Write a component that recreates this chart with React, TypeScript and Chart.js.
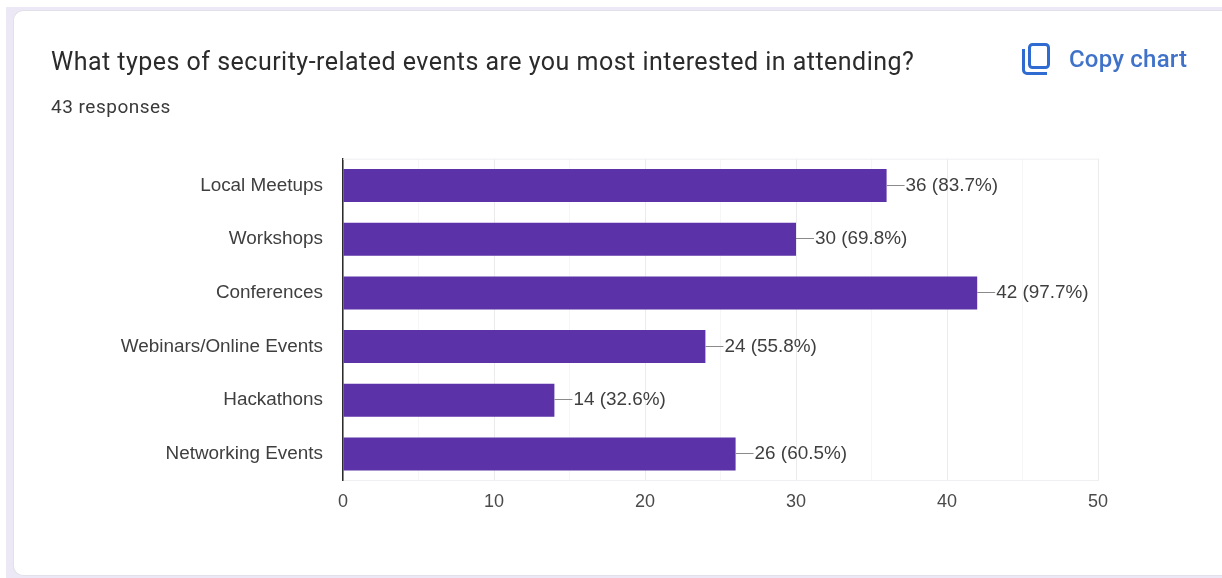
import React, { useEffect, useRef } from "react";
import { Chart, registerables } from "chart.js";

Chart.register(...registerables);

const titleText = "What types of security-related events are you most interested in attending?";
const responsesText = "43 responses";
const copyText = "Copy chart";
const categories = ["Local Meetups", "Workshops", "Conferences", "Webinars/Online Events", "Hackathons", "Networking Events"];
const counts = [36, 30, 42, 24, 14, 26];
const percents = ["83.7%", "69.8%", "97.7%", "55.8%", "32.6%", "60.5%"];

const labelFont = '18.9px "Liberation Sans", Arial, sans-serif';
const textColor = "#3f3f3f";

const annotate = {
  id: "annotate",
  afterDatasetsDraw(chart: any) {
    const { ctx, chartArea } = chart;
    const meta = chart.getDatasetMeta(0);
    ctx.save();
    // plot frame (top edge)
    ctx.strokeStyle = "#efeff2";
    ctx.lineWidth = 1;
    ctx.beginPath();
    ctx.moveTo(chartArea.left, chartArea.top + 0.5);
    ctx.lineTo(chartArea.right, chartArea.top + 0.5);
    ctx.stroke();
    // leader lines and value labels
    ctx.font = labelFont;
    ctx.textBaseline = "middle";
    ctx.textAlign = "left";
    meta.data.forEach((bar: any, i: number) => {
      ctx.strokeStyle = "#8a8a8a";
      ctx.beginPath();
      ctx.moveTo(bar.x, Math.round(bar.y) - 0.5);
      ctx.lineTo(bar.x + 18, Math.round(bar.y) - 0.5);
      ctx.stroke();
      ctx.fillStyle = textColor;
      ctx.fillText(`${counts[i]} (${percents[i]})`, bar.x + 19, bar.y);
    });
    ctx.restore();
  },
};

export default function App() {
  const ref = useRef<HTMLCanvasElement>(null);
  useEffect(() => {
    const chart = new Chart(ref.current!, {
      type: "bar",
      data: {
        labels: categories,
        datasets: [
          {
            data: counts,
            backgroundColor: "#5b32a8",
            categoryPercentage: 0.615,
            barPercentage: 1,
          },
        ],
      },
      plugins: [annotate],
      options: {
        indexAxis: "y",
        animation: false,
        responsive: false,
        maintainAspectRatio: false,
        layout: { padding: { left: 0, top: 158.7, right: 124, bottom: 0 } },
        plugins: { legend: { display: false }, title: { display: false }, tooltip: { enabled: false } },
        scales: {
          x: {
            min: 0,
            max: 50,
            afterFit: (s: any) => {
              s.height = 97.2;
            },
            border: { color: "#efeff2", width: 1 },
            grid: {
              drawTicks: false,
              color: (c: any) => (c.tick && c.tick.value % 10 === 0 ? "#ebebeb" : "#f6f6f6"),
              lineWidth: 1,
            },
            ticks: {
              stepSize: 5,
              autoSkip: false,
              maxRotation: 0,
              padding: 10,
              color: "#4a4a4a",
              font: { family: '"Liberation Sans", Arial, sans-serif', size: 18 },
              callback: (v: any) => (Number(v) % 10 === 0 ? String(v) : ""),
            },
          },
          y: {
            afterFit: (s: any) => {
              s.width = 343;
            },
            border: { color: "#2b2b2b", width: 1.5 },
            grid: { display: false },
            ticks: {
              padding: 12,
              autoSkip: false,
              color: textColor,
              font: { family: '"Liberation Sans", Arial, sans-serif', size: 18.9 },
            },
          },
        },
      },
    } as any);
    return () => chart.destroy();
  }, []);

  return (
    <div style={{ position: "fixed", left: 0, top: 0, width: 1222, height: 578, background: "#fff", overflow: "hidden" }}>
      <div style={{ position: "absolute", left: 6, top: 7, width: 1216, height: 571, background: "#ece8f5" }} />
      <div
        style={{
          position: "absolute",
          left: 13,
          top: 10,
          width: 1209,
          height: 566,
          boxSizing: "border-box",
          background: "#fff",
          border: "1px solid #e2e0ea",
          borderRight: "none",
          borderTopLeftRadius: 10,
          borderBottomLeftRadius: 10,
        }}
      />
      <canvas ref={ref} width={1222} height={578} style={{ position: "absolute", left: 0, top: 0, display: "block" }} />
      <div
        style={{
          position: "absolute",
          left: 51,
          top: 47,
          font: "25px Roboto, sans-serif",
          color: "#2b2b2b",
          whiteSpace: "nowrap",
          letterSpacing: 0.48,
        }}
      >
        {titleText}
      </div>
      <div
        style={{
          position: "absolute",
          left: 51,
          top: 95,
          font: "19px Roboto, sans-serif",
          color: "#3a3a3a",
          whiteSpace: "nowrap",
          letterSpacing: 0.5,
        }}
      >
        {responsesText}
      </div>
      <svg style={{ position: "absolute", left: 1022, top: 43 }} width={28} height={33} viewBox="0 0 28 33" fill="none">
        <rect x="7.5" y="1.5" width="19" height="23" rx="3" stroke="#2f6bd0" strokeWidth="3" />
        <path d="M1.5 6 V27 a3.5 3.5 0 0 0 3.5 3.5 H25" stroke="#2f6bd0" strokeWidth="3" />
      </svg>
      <div
        style={{
          position: "absolute",
          left: 1069,
          top: 45,
          font: "500 24px Roboto, sans-serif",
          color: "#3f72c8",
          whiteSpace: "nowrap",
          letterSpacing: 0.2,
        }}
      >
        {copyText}
      </div>
    </div>
  );
}
